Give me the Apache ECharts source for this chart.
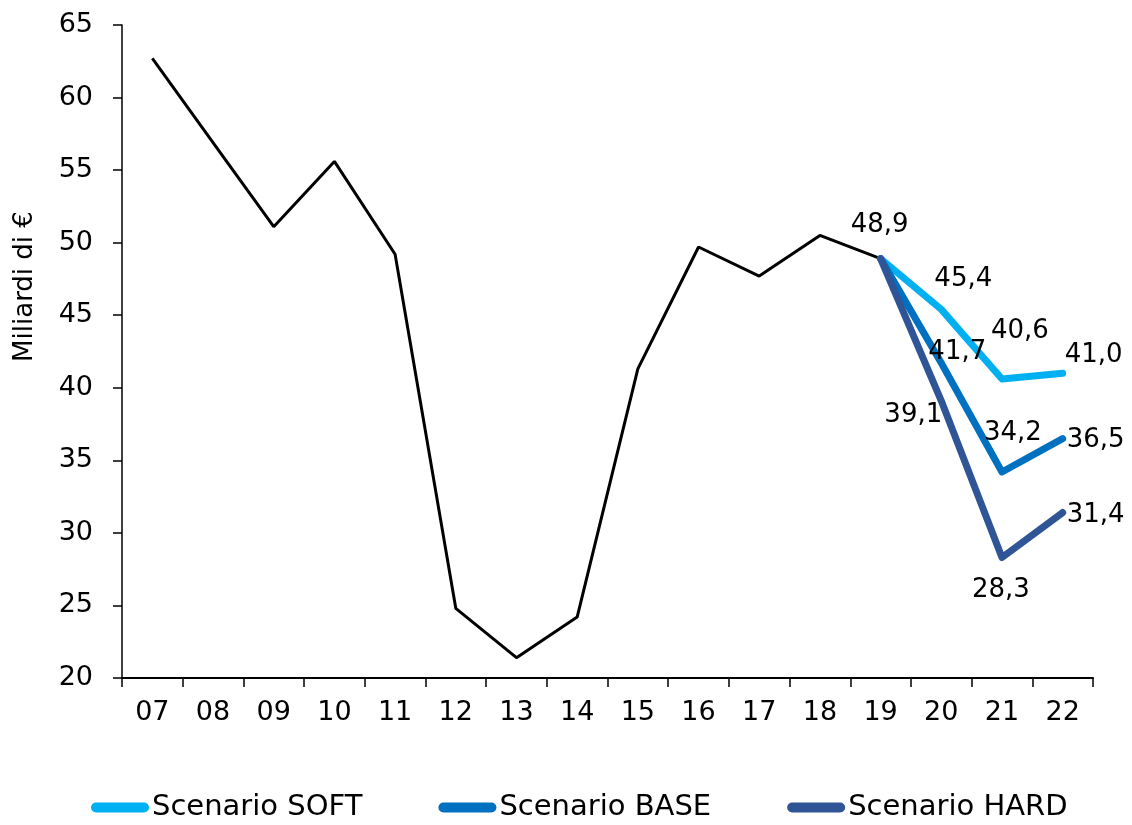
<!DOCTYPE html>
<html><head><meta charset="utf-8">
<script src="https://cdn.jsdelivr.net/npm/echarts@6/dist/echarts.min.js"></script>
<style>html,body{margin:0;padding:0;background:#fff}#c{width:1132px;height:825px}</style>
</head><body><div id="c"></div>
<script>
var categories = ['07','08','09','10','11','12','13','14','15','16','17','18','19','20','21','22'];
var storico = [62.7, 56.9, 51.1, 55.6, 49.2, 24.8, 21.4, 24.2, 41.3, 49.7, 47.7, 50.5, 48.9, null, null, null];
var soft = [null, null, null, null, null, null, null, null, null, null, null, null, 48.9, 45.4, 40.6, 41.0];
var base = [null, null, null, null, null, null, null, null, null, null, null, null, 48.9, 41.7, 34.2, 36.5];
var hard = [null, null, null, null, null, null, null, null, null, null, null, null, 48.9, 39.1, 28.3, 31.4];
var yTicks = [20, 25, 30, 35, 40, 45, 50, 55, 60, 65];

var FONT = 'DejaVu Sans';
function fmt(p){ return p.value == null ? '' : p.value.toFixed(1).replace('.', ','); }
function lab(values, specs){
  return values.map(function(v, i){
    var s = specs[i];
    if (v == null) return v;
    if (!s) return {value: v, label: {show: false}};
    return {value: v, label: {show: true, position: 'inside', offset: s}};
  });
}
var labStyle = {show: false, color: '#000', fontSize: 26, fontFamily: FONT, formatter: fmt};
var stadium = 'path://M5,0 L53,0 A5,5 0 0 1 53,10 L5,10 A5,5 0 0 1 5,0 Z';

var chart = echarts.init(document.getElementById('c'));
chart.setOption({
  animation: false,
  grid: {left: 122, right: 39, top: 25, bottom: 147},
  legend: {
    bottom: -2, left: 86, itemGap: 76, itemWidth: 58, itemHeight: 10,
    textStyle: {fontSize: 29, fontFamily: FONT, color: '#000', padding: [0,0,0,-2]},
    data: [
      {name: 'Scenario SOFT', icon: stadium},
      {name: 'Scenario BASE', icon: stadium},
      {name: 'Scenario HARD', icon: stadium}
    ]
  },
  xAxis: {
    type: 'category', data: categories, boundaryGap: true,
    axisLine: {lineStyle: {color: '#000', width: 2}},
    axisTick: {show: true, length: 9, lineStyle: {color: '#000', width: 1.5}},
    axisLabel: {color: '#000', fontSize: 27, fontFamily: FONT, margin: 21}
  },
  yAxis: {
    type: 'value', min: 20, max: 65, interval: 5,
    name: 'Miliardi di €', nameLocation: 'middle', nameGap: 84,
    nameTextStyle: {color: '#000', fontSize: 26, fontFamily: FONT, padding: [0, 0, 0, 130]},
    axisLine: {show: true, lineStyle: {color: '#000', width: 1.5}},
    axisTick: {show: true, length: 9, lineStyle: {color: '#000', width: 1.5}},
    splitLine: {show: false},
    axisLabel: {color: '#000', fontSize: 27, fontFamily: FONT, margin: 29}
  },
  series: [
    {name: 'Storico', type: 'line', data: lab(storico, {12: [-1, -33]}),
     symbol: 'circle', symbolSize: 0.1, showSymbol: true,
     lineStyle: {color: '#000', width: 3}, itemStyle: {color: '#000'},
     label: labStyle, z: 2},
    {name: 'Scenario SOFT', type: 'line', data: lab(soft, {13: [22, -30], 14: [18, -48], 15: [31, -18]}),
     symbol: 'circle', symbolSize: 0.1, showSymbol: true,
     lineStyle: {color: '#00B0F0', width: 7, cap: 'round', join: 'round'}, itemStyle: {color: '#00B0F0'},
     label: labStyle, z: 3},
    {name: 'Scenario BASE', type: 'line', data: lab(base, {13: [16, -11], 14: [11, -39], 15: [33, 2]}),
     symbol: 'circle', symbolSize: 0.1, showSymbol: true,
     lineStyle: {color: '#0070C0', width: 7, cap: 'round', join: 'round'}, itemStyle: {color: '#0070C0'},
     label: labStyle, z: 4},
    {name: 'Scenario HARD', type: 'line', data: lab(hard, {13: [-28, 14], 14: [-1, 33], 15: [33, 3]}),
     symbol: 'circle', symbolSize: 0.1, showSymbol: true,
     lineStyle: {color: '#2F5597', width: 7, cap: 'round', join: 'round'}, itemStyle: {color: '#2F5597'},
     label: labStyle, z: 5}
  ]
});
</script>
</body></html>
